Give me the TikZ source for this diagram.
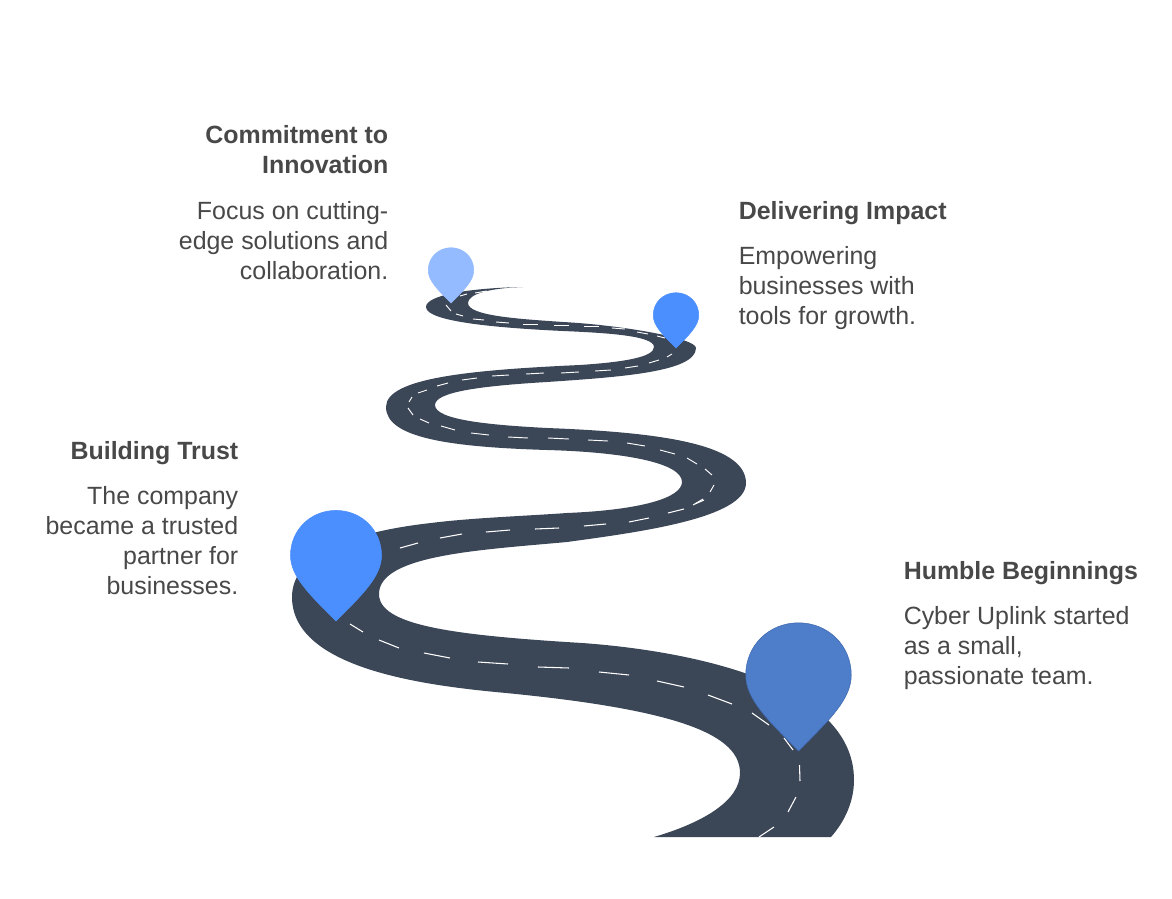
\documentclass[tikz,border=0pt]{standalone}
\usepackage{fontspec}
\setmainfont{Liberation Sans}
\definecolor{road}{HTML}{3B4657}
\definecolor{txt}{HTML}{484848}
\definecolor{pinA}{HTML}{4E7DC9}
\definecolor{pinAe}{HTML}{3F69AE}
\definecolor{pinB}{HTML}{4B8FFF}
\definecolor{pinC}{HTML}{94BBFF}
\tikzset{
  roadfill/.style={fill=road,draw=none},
  lane/.style={draw=white,line width=0.8pt},
  lanethin/.style={draw=white,line width=0.7pt},
  head/.style={font=\fontsize{18.7}{22.5}\selectfont\bfseries,text=txt,inner sep=0pt},
  bodyr/.style={font=\fontsize{18.7}{22.5}\selectfont,text=txt,inner sep=0pt,align=right,anchor=north east},
  bodyl/.style={font=\fontsize{18.7}{22.5}\selectfont,text=txt,inner sep=0pt,align=left,anchor=north west},
}
% tip x, tip y, width, fill, edge
\newcommand{\mappin}[5]{%
  \begin{scope}[shift={(#1,#2)},x=#3*0.75pt,y=-#3*0.75pt]
    \path[fill=#4,draw=#5,line width=0.4pt] (0,0)
      .. controls (-0.29,-0.29) and (-0.5,-0.49) .. (-0.5,-0.72)
      .. controls (-0.5,-1.0) and (-0.28,-1.215) .. (0,-1.215)
      .. controls (0.28,-1.215) and (0.5,-1.0) .. (0.5,-0.72)
      .. controls (0.5,-0.49) and (0.29,-0.29) .. (0,0) -- cycle;
  \end{scope}}
\begin{document}
\begin{tikzpicture}[x=0.75pt,y=-0.75pt]
\useasboundingbox (0,0) rectangle (1172,899);
% road
\path[roadfill] (654,837)
 .. controls (705,822) and (740,800) .. (740,773)
 .. controls (740,735) and (680,710) .. (506,693)
 .. controls (430,686) and (292,670) .. (292,597)
 .. controls (292,555) and (350,532) .. (431,523)
 .. controls (470,518) and (525,516) .. (567,513)
 .. controls (640,510) and (682,498) .. (682,482)
 .. controls (682,462) and (620,452) .. (547,450)
 .. controls (450,447) and (386,438) .. (386,407)
 .. controls (386,378) and (470,370) .. (580,365)
 .. controls (625,362) and (654,357) .. (654,347)
 .. controls (654,336) and (610,333) .. (563,331)
 .. controls (500,328) and (426,322) .. (426,307)
 .. controls (426,295) and (470,288) .. (523,287)
 .. controls (490,288) and (468,294) .. (468,303)
 .. controls (468,316) and (520,319) .. (563,322)
 .. controls (620,325) and (696,338) .. (696,348)
 .. controls (696,372) and (620,377) .. (547,382)
 .. controls (480,386) and (435,392) .. (435,405)
 .. controls (435,420) and (490,425) .. (547,428)
 .. controls (650,432) and (746,442) .. (746,483)
 .. controls (746,518) and (640,532) .. (567,542)
 .. controls (480,550) and (379,555) .. (379,594)
 .. controls (379,625) and (450,635) .. (582,643)
 .. controls (680,650) and (854,680) .. (854,780)
 .. controls (854,800) and (846,820) .. (831,837) -- cycle;
% lane dashes, lower part
\foreach \a/\b/\c/\d in {
 759/837/774/827, 788/812/796/797, 800/781/799.5/765, 793/750/784/738, 769/725/752/713, 732/704/708/695, 684/687/657/681, 629/675/599/672, 569/668/538/667, 508/664/478/662, 450/658/424/653, 399/648/379/640, 363/632/350/624,
 400/548/418/543, 440/538/462/534, 486/532/510/530, 535/529/559/528, 584/526/606/524, 629/522/649/518, 668/513/684/509, 695/504/704/500}
  \draw[lane] (\a,\b) -- (\c,\d);
% lane dashes, upper part
\foreach \a/\b/\c/\d in {
 693/505/703/499, 710/492/714/485, 712/475/705/469, 697/464/687/458, 675/454/660/450, 645/446/627/443, 608/441/588/440, 569/439/548/438, 528/438/508/437, 489/435/471/433, 455/430/441/426, 429/423/420/419, 413/415/408/408, 409/402/412/397, 418/393/427/390, 437/386/448/383, 462/380/477/378, 492/376/509/375, 526/374/544/373, 561/373/579/372, 595/371/611/370, 625/368/638/366, 649/363/659/360, 667/357/672/354,
 665/338/657/336, 648/334/637/332, 625/329/612/328, 599/326/584/326, 569/325/554/325, 538/324/523/324, 509/323/496/322, 484/320/473/319, 463/316/456/314, 451/311/446/305, 460/296/467/294, 475/293/487/291}
  \draw[lanethin] (\a,\b) -- (\c,\d);
% pins
\mappin{798.5}{751}{105.5}{pinA}{pinAe}
\mappin{336}{621}{91}{pinB}{pinB}
\mappin{676}{348}{45.5}{pinB}{pinB}
\mappin{451}{303}{45.5}{pinC}{pinC}
% text
\node[head,anchor=base east] (t1) at (388.5,143.5) {Commitment to};
\node[head,anchor=base east] (t1b) at (388.5,173.5) {Innovation};
\node[bodyr] (d1) at (388.5,201) {Focus on cutting-\\edge solutions and\\collaboration.};
\node[head,anchor=base west] (t2) at (738.5,219.5) {Delivering Impact};
\node[bodyl] (d2) at (738.5,246) {Empowering\\businesses with\\tools for growth.};
\node[head,anchor=base east] (t3) at (238.5,459.5) {Building Trust};
\node[bodyr] (d3) at (238.5,486) {The company\\became a trusted\\partner for\\businesses.};
\node[head,anchor=base west] (t4) at (903.5,579.5) {Humble Beginnings};
\node[bodyl] (d4) at (903.5,606) {Cyber Uplink started\\as a small,\\passionate team.};
\end{tikzpicture}
\end{document}
